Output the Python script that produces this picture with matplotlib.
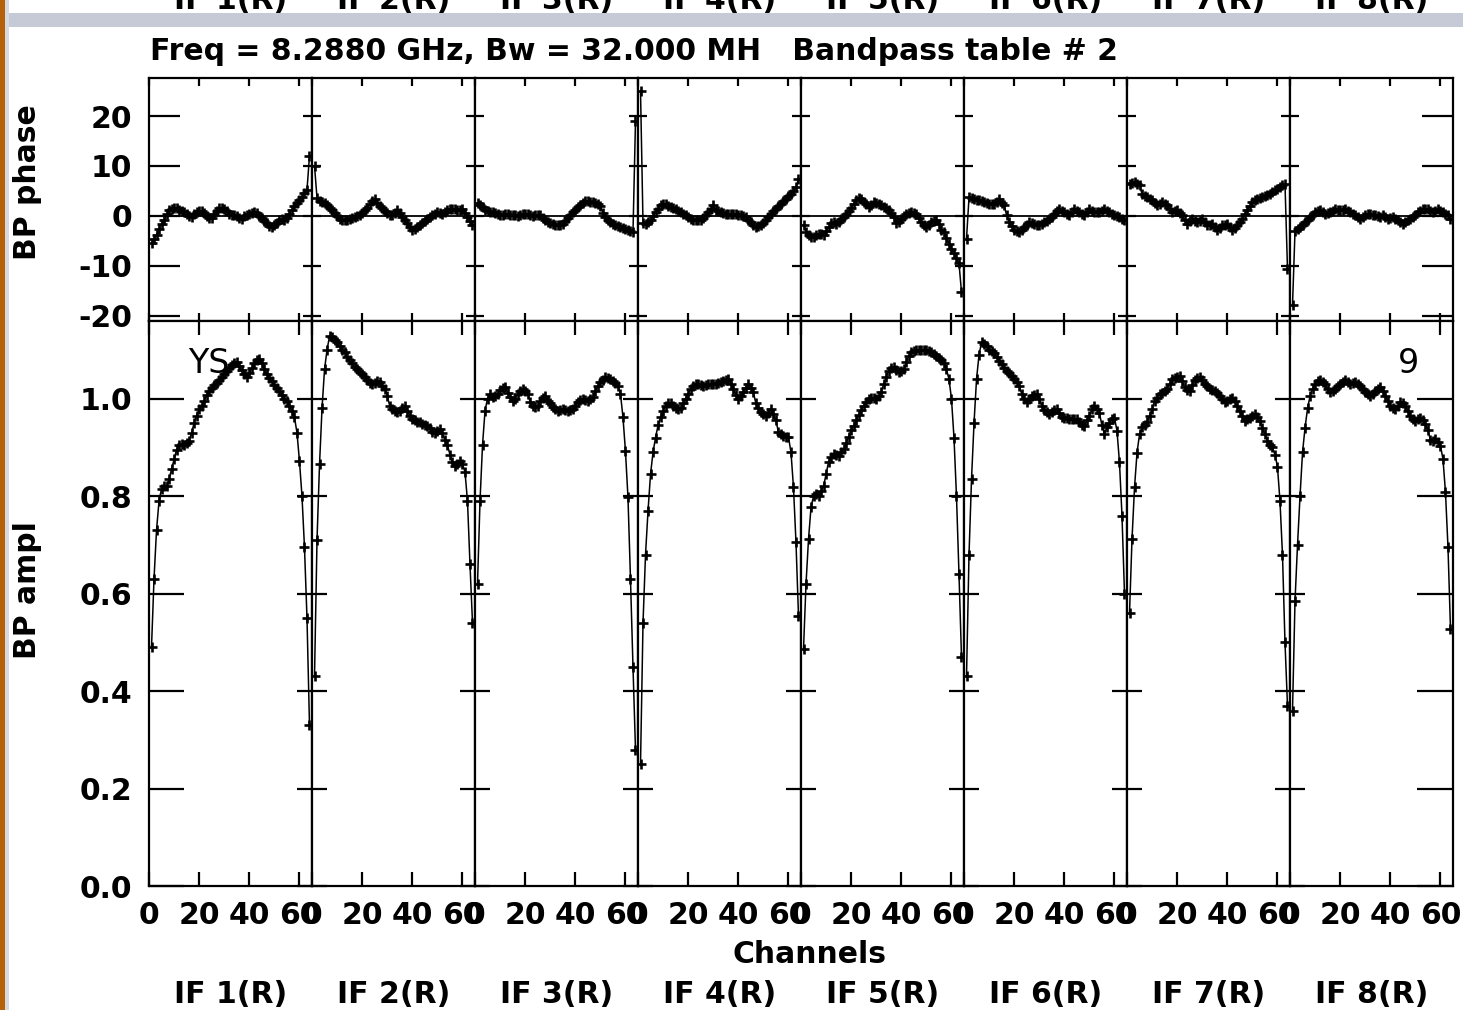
import numpy as np
import matplotlib
matplotlib.use("Agg")
import matplotlib.pyplot as plt
from matplotlib.patches import Rectangle

# --- data (64 channels per IF) ---
channels = np.arange(1, 65)
if_labels = ["IF 1(R)", "IF 2(R)", "IF 3(R)", "IF 4(R)",
             "IF 5(R)", "IF 6(R)", "IF 7(R)", "IF 8(R)"]
title = "Freq = 8.2880 GHz, Bw = 32.000 MH   Bandpass table # 2"
phase_ticks = [-20, -10, 0, 10, 20]
amp_ticks = [0.0, 0.2, 0.4, 0.6, 0.8, 1.0]
chan_ticks = [0, 20, 40, 60]

amp_if1 = [0.49, 0.63, 0.73, 0.79, 0.815, 0.82, 0.82, 0.835,
           0.855, 0.875, 0.895, 0.905, 0.907, 0.905, 0.908, 0.913,
           0.93, 0.95, 0.965, 0.978, 0.985, 0.995, 1.008, 1.015,
           1.022, 1.027, 1.032, 1.038, 1.044, 1.05, 1.056, 1.062,
           1.068, 1.072, 1.074, 1.066, 1.058, 1.05, 1.044, 1.052,
           1.062, 1.072, 1.078, 1.081, 1.072, 1.06, 1.05, 1.042,
           1.035, 1.028, 1.022, 1.016, 1.008, 1.0, 0.995, 0.985,
           0.975, 0.962, 0.93, 0.872, 0.80, 0.695, 0.55, 0.33]
amp_if2 = [0.43, 0.71, 0.865, 0.98, 1.06, 1.10, 1.128, 1.126,
           1.12, 1.116, 1.108, 1.10, 1.095, 1.085, 1.078, 1.072,
           1.065, 1.06, 1.055, 1.05, 1.044, 1.038, 1.032, 1.03,
           1.032, 1.036, 1.034, 1.025, 1.02, 1.005, 0.985, 0.978,
           0.975, 0.972, 0.975, 0.98, 0.985, 0.975, 0.965, 0.958,
           0.955, 0.952, 0.951, 0.948, 0.945, 0.944, 0.94, 0.932,
           0.93, 0.934, 0.937, 0.93, 0.915, 0.905, 0.885, 0.87,
           0.862, 0.865, 0.872, 0.865, 0.85, 0.79, 0.66, 0.54]
amp_if3 = [0.62, 0.79, 0.905, 0.975, 1.0, 1.009, 1.003, 1.005,
           1.01, 1.018, 1.022, 1.024, 1.012, 1.003, 0.995, 1.0,
           1.009, 1.015, 1.02, 1.016, 1.01, 0.993, 0.985, 0.983,
           0.985, 0.995, 1.002, 1.005, 0.995, 0.99, 0.983, 0.978,
           0.975, 0.977, 0.979, 0.977, 0.975, 0.977, 0.979, 0.985,
           0.992, 0.996, 0.999, 0.997, 0.995, 0.999, 1.003, 1.015,
           1.025, 1.033, 1.038, 1.044, 1.043, 1.04, 1.036, 1.031,
           1.025, 1.01, 0.962, 0.892, 0.797, 0.63, 0.45, 0.28]
amp_if4 = [0.25, 0.54, 0.68, 0.77, 0.845, 0.89, 0.92, 0.945,
           0.962, 0.975, 0.985, 0.99, 0.99, 0.985, 0.98, 0.978,
           0.98, 0.99, 1.0, 1.01, 1.02, 1.025, 1.03, 1.03,
           1.028, 1.026, 1.028, 1.03, 1.03, 1.03, 1.03, 1.032,
           1.034, 1.036, 1.038, 1.04, 1.03, 1.02, 1.008, 0.999,
           1.005, 1.013, 1.022, 1.03, 1.022, 1.013, 0.99, 0.98,
           0.972, 0.968, 0.965, 0.97, 0.978, 0.968, 0.955, 0.931,
           0.927, 0.924, 0.922, 0.921, 0.89, 0.818, 0.705, 0.554]
amp_if5 = [0.486, 0.62, 0.712, 0.777, 0.80, 0.805, 0.80, 0.81,
           0.82, 0.845, 0.87, 0.88, 0.886, 0.885, 0.883, 0.89,
           0.896, 0.908, 0.922, 0.935, 0.944, 0.955, 0.966, 0.976,
           0.985, 0.993, 0.998, 1.002, 1.001, 0.999, 1.006, 1.014,
           1.03, 1.045, 1.057, 1.062, 1.064, 1.058, 1.054, 1.057,
           1.06, 1.075, 1.087, 1.095, 1.098, 1.10, 1.10, 1.10,
           1.10, 1.099, 1.098, 1.095, 1.092, 1.088, 1.083, 1.078,
           1.072, 1.06, 1.04, 1.0, 0.92, 0.80, 0.64, 0.47]
amp_if6 = [0.43, 0.68, 0.835, 0.95, 1.04, 1.09, 1.115, 1.112,
           1.108, 1.10, 1.097, 1.093, 1.085, 1.077, 1.07, 1.063,
           1.056, 1.052, 1.047, 1.04, 1.034, 1.025, 1.01, 1.0,
           0.992, 0.998, 1.006, 1.008, 1.009, 1.0, 0.985, 0.977,
           0.972, 0.968, 0.972, 0.977, 0.978, 0.97, 0.963, 0.961,
           0.96, 0.958, 0.958, 0.958, 0.958, 0.952, 0.946, 0.944,
           0.955, 0.965, 0.978, 0.985, 0.978, 0.97, 0.945, 0.927,
           0.941, 0.95, 0.958, 0.96, 0.934, 0.869, 0.76, 0.60]
amp_if7 = [0.56, 0.712, 0.818, 0.889, 0.927, 0.941, 0.946, 0.951,
           0.965, 0.978, 0.995, 1.002, 1.009, 1.012, 1.016, 1.02,
           1.03, 1.04, 1.043, 1.045, 1.047, 1.035, 1.023, 1.018,
           1.016, 1.027, 1.037, 1.042, 1.044, 1.037, 1.03, 1.025,
           1.02, 1.018, 1.016, 1.012, 1.006, 0.998, 0.992, 0.995,
           0.999, 1.002, 0.995, 0.985, 0.975, 0.965, 0.954, 0.957,
           0.961, 0.965, 0.968, 0.962, 0.954, 0.94, 0.927, 0.913,
           0.905, 0.9, 0.885, 0.86, 0.79, 0.68, 0.50, 0.37]
amp_if8 = [0.36, 0.585, 0.70, 0.80, 0.89, 0.94, 0.98, 1.005,
           1.02, 1.03, 1.036, 1.037, 1.034, 1.03, 1.02, 1.013,
           1.016, 1.02, 1.025, 1.03, 1.034, 1.037, 1.034, 1.03,
           1.032, 1.033, 1.03, 1.026, 1.02, 1.013, 1.01, 1.006,
           1.01, 1.016, 1.02, 1.023, 1.015, 1.006, 0.995, 0.985,
           0.98, 0.978, 0.985, 0.992, 0.99, 0.985, 0.975, 0.965,
           0.958, 0.954, 0.958, 0.961, 0.955, 0.948, 0.935, 0.915,
           0.912, 0.917, 0.91, 0.903, 0.876, 0.808, 0.695, 0.527]

phase_if1 = [-5.5, -4.6, -3.8, -2.6, -1.6, -0.9, 0.3, 1.1,
             1.4, 1.6, 1.5, 1.2, 1.0, 0.7, 0.4, 0.0,
             -0.3, 0.4, 0.7, 1.0, 1.0, 0.5, 0.0, -0.4,
             -0.5, 0.3, 0.9, 1.5, 1.6, 1.3, 0.9, 0.4,
             0.1, 0.1, 0.0, -0.4, -0.6, -0.1, 0.2, 0.4,
             0.5, 0.7, 0.5, 0.0, -0.5, -1.0, -1.5, -2.1,
             -2.2, -1.8, -1.4, -0.8, -0.6, -0.9, -0.5, 0.4,
             1.2, 1.9, 2.6, 3.1, 3.8, 4.6, 5.2, 12.0]
phase_if2 = [10.0, 3.6, 3.0, 2.7, 2.5, 2.2, 1.6, 1.1,
             0.5, -0.1, -0.6, -0.9, -0.9, -0.8, -0.6, -0.5,
             -0.3, -0.1, 0.2, 0.5, 1.1, 1.6, 2.3, 2.9,
             3.3, 2.6, 2.0, 1.5, 1.0, 0.5, 0.2, 0.1,
             0.6, 1.1, 0.6, -0.2, -0.8, -1.5, -2.2, -2.8,
             -2.7, -2.3, -1.9, -1.4, -1.0, -0.6, -0.3, 0.1,
             0.4, 0.7, 0.6, 0.4, 0.7, 1.1, 1.3, 1.4,
             1.3, 1.1, 1.2, 1.3, 0.6, -0.3, -1.0, -1.9]
phase_if3 = [2.6, 2.2, 1.7, 1.2, 1.0, 0.8, 0.7, 0.5,
             0.3, 0.1, 0.2, 0.4, 0.3, 0.1, 0.1, 0.1,
             0.0, 0.2, 0.3, 0.4, 0.3, 0.1, 0.0, 0.1,
             0.2, 0.1, -0.4, -0.9, -1.2, -1.4, -1.6, -1.8,
             -1.9, -1.9, -1.6, -1.1, -0.5, 0.2, 0.7, 1.2,
             1.7, 2.1, 2.6, 3.0, 3.0, 2.8, 2.7, 2.6,
             2.3, 2.0, 0.6, -0.3, -0.9, -1.3, -1.6, -1.8,
             -2.1, -2.3, -2.5, -2.6, -2.8, -3.1, -3.3, 19.0]
phase_if4 = [25.0, -1.5, -1.6, -1.3, -0.9, -0.1, 0.7, 1.4,
             2.1, 2.3, 2.4, 2.0, 1.7, 1.5, 1.4, 1.0,
             0.7, 0.4, 0.1, -0.3, -0.6, -0.8, -0.9, -0.9,
             -0.9, -0.4, 0.1, 0.8, 1.4, 2.1, 1.1, 0.9,
             0.7, 0.5, 0.4, 0.4, 0.4, 0.4, 0.4, 0.2,
             0.1, -0.1, -0.3, -0.8, -1.3, -1.8, -2.3, -2.1,
             -1.9, -1.4, -0.9, -0.3, 0.4, 0.9, 1.4, 1.9,
             2.4, 2.9, 3.4, 3.9, 4.4, 5.0, 5.7, 7.4]
phase_if5 = [-1.8, -3.3, -3.9, -4.3, -4.2, -3.9, -3.7, -3.6,
             -3.9, -3.0, -2.3, -1.5, -1.3, -1.6, -1.2, -0.7,
             -0.2, 0.4, 1.0, 1.6, 2.4, 3.1, 3.6, 3.3,
             2.8, 2.3, 1.7, 2.2, 2.7, 2.6, 2.4, 2.1,
             1.8, 1.5, 1.2, 0.6, -0.3, -1.4, -1.2, -0.6,
             -0.1, 0.4, 0.6, 0.7, 0.6, 0.4, -0.4, -1.3,
             -1.8, -2.3, -1.8, -1.3, -1.0, -0.9, -1.6, -2.8,
             -3.2, -4.5, -5.6, -6.6, -7.5, -8.5, -9.5, -15.3]
phase_if6 = [-4.6, 3.7, 3.5, 3.4, 3.2, 3.1, 2.9, 2.7,
             2.5, 2.4, 2.4, 2.4, 2.8, 3.4, 2.6, 2.1,
             0.1, -1.2, -2.0, -2.9, -3.1, -3.3, -2.8, -2.3,
             -1.8, -1.3, -1.4, -1.6, -1.8, -1.9, -1.6, -1.3,
             -1.0, -0.6, -0.2, 0.4, 0.9, 1.4, 1.0, 0.7,
             0.4, 0.1, 0.7, 1.4, 1.0, 0.7, 0.4, 0.1,
             0.7, 1.4, 1.0, 0.7, 0.7, 0.7, 1.0, 1.4,
             1.0, 0.7, 0.4, 0.1, -0.1, -0.3, -0.6, -0.9]
phase_if7 = [6.4, 6.6, 6.7, 6.4, 6.1, 4.4, 4.0, 3.7,
             3.4, 3.1, 2.6, 2.1, 2.4, 2.7, 2.4, 2.1,
             1.4, 0.7, 0.9, 1.1, 0.6, 0.1, -0.8, -1.6,
             -1.1, -0.6, -1.0, -1.3, -1.0, -0.6, -1.3, -1.9,
             -1.8, -1.6, -2.3, -2.9, -2.4, -1.9, -1.8, -1.6,
             -2.3, -2.9, -2.4, -1.9, -1.3, -0.6, 0.3, 1.1,
             1.9, 2.7, 3.1, 3.4, 3.6, 3.7, 3.9, 4.1,
             4.4, 4.7, 5.1, 5.4, 5.8, 6.1, 6.4, -10.6]
phase_if8 = [-17.9, -3.0, -2.6, -2.3, -1.8, -1.3, -0.8, -0.3,
             0.2, 0.7, 0.9, 1.1, 0.8, 0.4, 0.5, 0.7,
             1.0, 1.4, 1.2, 1.1, 1.2, 1.4, 1.0, 0.7,
             0.4, 0.1, -0.3, -0.6, -0.2, 0.1, 0.3, 0.4,
             0.2, 0.1, -0.1, -0.3, 0.1, -0.2, -0.6, -0.4,
             -0.3, -0.6, -0.9, -1.2, -1.6, -1.2, -0.9, -0.6,
             -0.3, 0.2, 0.7, 1.0, 1.4, 1.4, 1.4, 1.0,
             0.7, 1.0, 1.4, 1.0, 0.7, 0.4, 0.1, -0.6]

amps = [amp_if1, amp_if2, amp_if3, amp_if4, amp_if5, amp_if6, amp_if7, amp_if8]
phases = [phase_if1, phase_if2, phase_if3, phase_if4,
          phase_if5, phase_if6, phase_if7, phase_if8]

# --- figure layout (pixels of the reference image) ---
W, H = 1463, 1010
FS = 21.5
plt.rcParams['font.family'] = ['DejaVu Sans']
plt.rcParams['font.weight'] = 'bold'

fig = plt.figure(figsize=(W / 100, H / 100), dpi=100)
fig.patch.set_facecolor('white')

x_left, x_right = 149, 1453
y_top, y_mid, y_bot = 78, 321, 886
panel_w = (x_right - x_left) / 8


def set_y_tick_lengths(ax, left_len, right_len):
    for t in ax.yaxis.get_major_ticks():
        t.tick1line.set_markersize(left_len)
        t.tick2line.set_markersize(right_len)


line_kw = dict(color='k', lw=1.1, marker='+', ms=7.5, mew=1.9, zorder=3)

for k in range(8):
    x0 = (x_left + k * panel_w) / W
    axp = fig.add_axes([x0, 1 - y_mid / H, panel_w / W, (y_mid - y_top) / H])
    axa = fig.add_axes([x0, 1 - y_bot / H, panel_w / W, (y_bot - y_mid) / H])

    axp.plot(channels, phases[k], **line_kw)
    axp.axhline(0, color='k', lw=1.3, zorder=2)
    axa.plot(channels, amps[k], **line_kw)

    axp.set_xlim(0, 65)
    axa.set_xlim(0, 65)
    axp.set_ylim(-21.1, 27.65)
    axa.set_ylim(0, 1.159)

    for ax in (axp, axa):
        for s in ax.spines.values():
            s.set_linewidth(1.6)
        ax.set_xticks(chan_ticks)
        ax.tick_params(axis='both', direction='in', width=1.6,
                       top=True, bottom=True, left=True, right=True,
                       labelsize=FS)

    axp.set_yticks(phase_ticks)
    axa.set_yticks(amp_ticks)
    axp.tick_params(axis='x', length=6, labelbottom=False)
    axa.tick_params(axis='x', length=10, pad=11)
    axa.set_xticklabels([str(t) for t in chan_ticks])

    if k == 0:
        axp.set_yticklabels([str(t) for t in phase_ticks])
        axa.set_yticklabels([f"{t:.1f}" for t in amp_ticks])
        axp.tick_params(axis='y', pad=12)
        axa.tick_params(axis='y', pad=12)
    else:
        axp.tick_params(axis='y', labelleft=False)
        axa.tick_params(axis='y', labelleft=False)

    set_y_tick_lengths(axp, 22 if k == 0 else 6.2, 22 if k == 7 else 6.2)
    set_y_tick_lengths(axa, 25 if k == 0 else 10.6, 26 if k == 7 else 10.6)

# --- texts ---
fig.text(150 / W, 1 - 60 / H, title, fontsize=FS, ha='left', va='baseline')
fig.text(809 / W, 1 - 963 / H, "Channels", fontsize=FS, ha='center', va='baseline')
for k, lab in enumerate(if_labels):
    xc = (x_left + (k + 0.5) * panel_w) / W
    fig.text(xc, 1 - 1003 / H, lab, fontsize=FS, ha='center', va='baseline')
    fig.text(xc, 1 - 9 / H, lab, fontsize=FS, ha='center', va='baseline')
fig.text(28 / W, 1 - 182 / H, "BP phase", fontsize=FS, rotation=90,
         ha='center', va='center')
fig.text(28 / W, 1 - 590 / H, "BP ampl", fontsize=FS, rotation=90,
         ha='center', va='center')
fig.text(188 / W, 1 - 373 / H, "YS", fontsize=24, fontweight='normal',
         ha='left', va='baseline')
fig.text(1398 / W, 1 - 373 / H, "9", fontsize=24, fontweight='normal',
         ha='left', va='baseline')

# --- page frame bits around the plot ---
fig.add_artist(Rectangle((8 / W, 1 - 27 / H), 1, 14 / H, transform=fig.transFigure,
                         facecolor='#c6cad6', edgecolor='none', zorder=10))
fig.add_artist(Rectangle((5 / W, 0), 3.5 / W, 1, transform=fig.transFigure,
                         facecolor='#d6d9e2', edgecolor='none', zorder=10))
fig.add_artist(Rectangle((0, 0), 5 / W, 1, transform=fig.transFigure,
                         facecolor='#b5600a', edgecolor='none', zorder=11))

fig.savefig("out.png", dpi=100)
